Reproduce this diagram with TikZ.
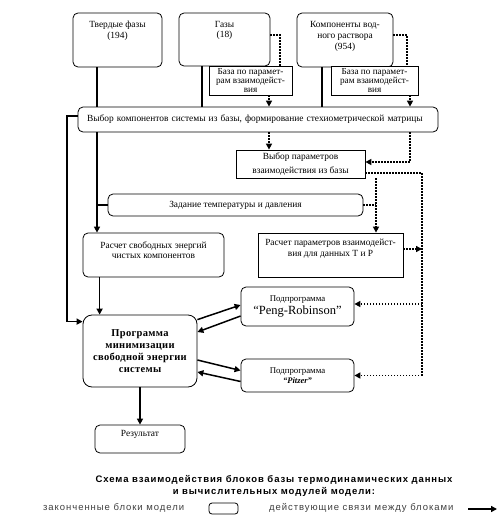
\documentclass[tikz,border=0pt]{standalone}
\usepackage{fontspec}
\setmainfont{Liberation Serif}
\newfontfamily\legfont{Liberation Sans}
\usetikzlibrary{arrows.meta,calc}
\newcommand\topt[4]{\parbox[c][#2][t]{#1}{\centering\vspace*{#3}#4\par}}
\begin{document}
\begin{tikzpicture}[x=1pt,y=-1pt,
  txt/.style={font=\fontsize{9.4}{10.5}\selectfont},
  rbox/.style={draw, rounded corners=5pt, line width=0.8pt, inner sep=0pt, fill=white, txt},
  sbox/.style={draw, line width=0.8pt, inner sep=0pt, fill=white, txt},
  link/.style={line width=1.5pt},
  arr/.style={link, -{Triangle[length=6pt,width=6pt]}},
  dotl/.style={line width=1.5pt, dash pattern=on 1.5pt off 1.5pt},
  darr/.style={dotl, -{Triangle[length=6pt,width=6pt]}},
  leg/.style={font=\legfont\fontsize{9.5}{11}\selectfont\addfontfeature{LetterSpace=10}, text=black!75, inner sep=0pt}
]
\useasboundingbox (0,0) rectangle (500,530);
% column coordinates
\coordinate (c1) at (97,0);
\coordinate (c2) at (202,0);
\coordinate (c3) at (322,0);
\coordinate (d1) at (280,0);
\coordinate (d1b) at (269,0);
\coordinate (d2) at (407,0);
\coordinate (d2b) at (410,0);
\coordinate (d3) at (376,0);
\coordinate (d4) at (422,0);
\coordinate (lft) at (67,0);

\node[rbox] (tv) at (117.5,40) {\topt{89pt}{54pt}{8pt}{Твердые фазы\\(194)}};
\node[rbox] (gz) at (224.5,39.5) {\topt{91pt}{53pt}{8pt}{Газы\\(18)}};
\node[rbox] (kp) at (345,40) {\topt{96pt}{54pt}{8.5pt}{\fontsize{9.4}{11}\selectfont Компоненты вод-\\ного раствора\\(954)}};
\node[sbox, minimum width=83pt, minimum height=29pt, align=center, font=\fontsize{9.2}{8.7}\selectfont] (bz1) at (250.5,80.5) {База по парамет-\\рам взаимодейст-\\вия};
\node[sbox, minimum width=87pt, minimum height=29pt, align=center, font=\fontsize{9.2}{8.7}\selectfont] (bz2) at (374.5,80.5) {База по парамет-\\рам взаимодейст-\\вия};
\node[rbox, text width=360pt, align=left, minimum height=25pt] (vk) at (258,119.5) {\hspace*{9pt}Выбор компонентов системы из базы, формирование стехиометрической матрицы};
\node[sbox, minimum width=129pt, minimum height=28pt, align=center, font=\fontsize{9.4}{13.5}\selectfont] (vp) at (300.5,164) {Выбор параметров\\взаимодействия из базы};
\node[rbox, minimum width=255pt, minimum height=22pt] (zd) at (235.5,205) {Задание температуры и давления};
\node[rbox] (rs) at (153.5,255) {\topt{141pt}{44pt}{8.5pt}{Расчет свободных энергий\\чистых компонентов}};
\node[sbox] (rp) at (330.5,255) {\topt{145pt}{44pt}{6.5pt}{Расчет параметров взаимодейст-\\вия для данных Т и Р}};
\node[rbox, minimum width=113pt, minimum height=39pt, align=center, font=\fontsize{8.8}{10}\selectfont] (pr) at (297.5,306.5) {Подпрограмма\\[1pt]{\fontsize{12.5}{13}\selectfont “Peng-Robinson”}};
\node[rbox, minimum width=113pt, minimum height=33pt, align=center, font=\fontsize{8.8}{10}\selectfont] (pz) at (297.5,375.5) {Подпрограмма\\{\fontsize{8.5}{9}\selectfont\bfseries\itshape “Pitzer”}};
\node[rbox, rounded corners=9pt, minimum width=114pt, minimum height=72pt, align=center, font=\fontsize{10.5}{12}\selectfont\bfseries\addfontfeature{LetterSpace=3}] (pm) at (140,351) {Программа\\минимизации\\свободной энергии\\системы};
\node[rbox] (rz) at (140,439) {\topt{90pt}{28pt}{5pt}{Результат}};

% solid connectors
\draw[link] (tv.south -| c1) -- (vk.north -| c1);
\draw[link] (gz.south -| c2) -- (vk.north -| c2);
\draw[link] (kp.south -| c3) -- (vk.north -| c3);
\draw[arr] (vk.south -| c1) -- (rs.north -| c1);
\draw[link] (zd.west) -- (zd.west -| c1);
\coordinate (vkl) at ($(vk.west)+(0,-3.5)$);
\coordinate (pmin) at ($(pm.north west)+(0,7)$);
\draw[arr] (vkl) -| (pmin -| lft) -- (pmin);
\coordinate (rsb) at ($(rs.south -| pm.north west)+(17,0)$);
\draw[arr] (rsb) -- (rsb |- pm.north);
\draw[arr] ($(pm.north east)+(0,5)$) -- ($(pr.west)+(0,-1.5)$);
\draw[arr] ($(pr.west)+(0,9.5)$) -- ($(pm.east)+(0,-19)$);
\draw[arr] ($(pm.east)+(0,9)$) -- ($(pz.west)+(0,-5)$);
\draw[arr] ($(pz.west)+(0,6)$) -- ($(pm.east)+(0,21)$);
\draw[arr] (pm.south) -- (rz.north);

% dotted connectors
\coordinate (g1) at (gz.east |- 0,35);
\draw[dotl] (g1) -| (bz1.north -| d1);
\coordinate (k1) at (kp.east |- 0,35);
\draw[dotl] (k1) -| (bz2.north -| d2);
\draw[darr] (bz1.south -| d1b) -- (vk.north -| d1b);
\draw[darr] (bz2.south -| d2b) -- (vk.north -| d2b);
\draw[darr] (vk.south -| d1b) -- (vp.north -| d1b);
\coordinate (vpin) at ($(vp.east)+(0,-2)$);
\draw[darr] (vk.south -| d2b) |- (vpin);
\coordinate (vpout) at ($(vp.east)+(0,9)$);
\draw[dotl] (vpout) -| (d4 |- pz.east);
\draw[darr] (vp.south -| d3) -- (rp.north -| d3);
\draw[dotl] (zd.east) -- (zd.east -| d3);
\coordinate (rpout) at ($(rp.east)+(0,-6)$);
\draw[darr] (rpout) -- (rpout -| d4);
\coordinate (prin) at ($(pr.east)+(0,-2.5)$);
\draw[darr] (prin -| d4) -- (prin);
\draw[darr] (d4 |- pz.east) -- (pz.east);

% legend
\node[inner sep=0pt, align=center, font=\legfont\fontsize{9.5}{12}\selectfont\bfseries\addfontfeature{LetterSpace=9.5}] (ttl) at (274,486) {Схема взаимодействия блоков базы термодинамических данных\\и вычислительных модулей модели:};
\node[leg, anchor=west] (l1) at (43,508) {законченные блоки модели};
\node[draw, rounded corners=3pt, line width=0.8pt, minimum width=29pt, minimum height=11pt, inner sep=0pt] (lb) at (223.5,508.5) {};
\node[leg, anchor=west] (l2) at (269,508) {действующие связи между блоками};
\coordinate (la1) at (468,509);
\coordinate (la2) at (497,509);
\draw[arr] (la1) -- (la2);
\end{tikzpicture}
\end{document}
